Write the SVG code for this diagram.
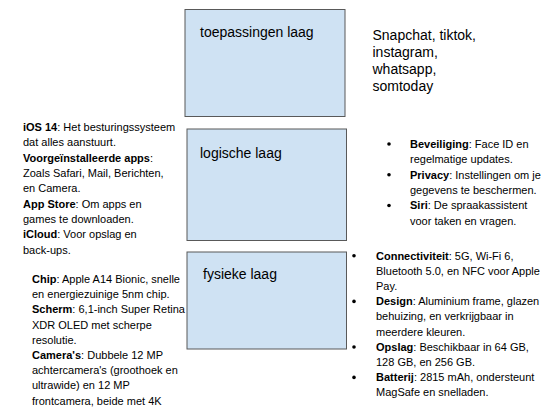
<svg xmlns="http://www.w3.org/2000/svg" width="552" height="415" viewBox="0 0 552 415">
<style>
.box{fill:#cfe2f3;stroke:#595959;stroke-width:1}
.lbl{font-family:"Liberation Sans",Arial,sans-serif;font-size:14px;fill:#000}
.t{font-family:"Liberation Sans",Arial,sans-serif;font-size:11px;fill:#000}
.b{font-weight:bold}
.dot{fill:#000}
</style>
<rect width="552" height="415" fill="#ffffff"/>
<g id="toepassingen">
<rect class="box" x="185" y="9.5" width="160" height="107"/>
<text class="lbl" x="200" y="37">toepassingen laag</text>
</g>
<g id="logische">
<rect class="box" x="187" y="129" width="159.5" height="111.5"/>
<text class="lbl" x="200" y="158">logische laag</text>
</g>
<g id="fysieke">
<rect class="box" x="187" y="252" width="159.5" height="97"/>
<text class="lbl" x="203" y="279">fysieke laag</text>
</g>
<g id="connectors"></g>
<g id="apps-text">
<text class="lbl" x="372.5" y="40">Snapchat, tiktok,</text>
<text class="lbl" x="372.5" y="57">instagram,</text>
<text class="lbl" x="372.5" y="74">whatsapp,</text>
<text class="lbl" x="372.5" y="91">somtoday</text>
</g>
<g id="logisch-left">
<text class="t" x="23" y="131"><tspan class="b">iOS 14</tspan>: Het besturingssysteem</text>
<text class="t" x="23" y="146.3">dat alles aanstuurt.</text>
<text class="t" x="23" y="161.6"><tspan class="b">Voorgeïnstalleerde apps</tspan>:</text>
<text class="t" x="23" y="177">Zoals Safari, Mail, Berichten,</text>
<text class="t" x="23" y="192.3">en Camera.</text>
<text class="t" x="23" y="207.6"><tspan class="b">App Store</tspan>: Om apps en</text>
<text class="t" x="23" y="223">games te downloaden.</text>
<text class="t" x="23" y="238.3"><tspan class="b">iCloud</tspan>: Voor opslag en</text>
<text class="t" x="23" y="253.6">back-ups.</text>
</g>
<g id="fysiek-left">
<text class="t" x="32" y="283"><tspan class="b">Chip</tspan>: Apple A14 Bionic, snelle</text>
<text class="t" x="32" y="298.2">en energiezuinige 5nm chip.</text>
<text class="t" x="32" y="313.4"><tspan class="b">Scherm</tspan>: 6,1-inch Super Retina</text>
<text class="t" x="32" y="328.6">XDR OLED met scherpe</text>
<text class="t" x="32" y="343.8">resolutie.</text>
<text class="t" x="32" y="359"><tspan class="b">Camera's</tspan>: Dubbele 12 MP</text>
<text class="t" x="32" y="374.2">achtercamera's (groothoek en</text>
<text class="t" x="32" y="389.4">ultrawide) en 12 MP</text>
<text class="t" x="32" y="404.6">frontcamera, beide met 4K</text>
</g>
<g id="logisch-right">
<circle class="dot" cx="389" cy="144" r="1.8"/>
<text class="t" x="410" y="147.7"><tspan class="b">Beveiliging</tspan>: Face ID en</text>
<text class="t" x="410" y="163">regelmatige updates.</text>
<circle class="dot" cx="389" cy="174.8" r="1.8"/>
<text class="t" x="410" y="178.5"><tspan class="b">Privacy</tspan>: Instellingen om je</text>
<text class="t" x="410" y="194">gegevens te beschermen.</text>
<circle class="dot" cx="389" cy="205.5" r="1.8"/>
<text class="t" x="410" y="209.2"><tspan class="b">Siri</tspan>: De spraakassistent</text>
<text class="t" x="410" y="224.6">voor taken en vragen.</text>
</g>
<g id="fysiek-right">
<circle class="dot" cx="354" cy="255.8" r="1.8"/>
<text class="t" x="376" y="259.5"><tspan class="b">Connectiviteit</tspan>: 5G, Wi-Fi 6,</text>
<text class="t" x="376" y="274.7">Bluetooth 5.0, en NFC voor Apple</text>
<text class="t" x="376" y="289.9">Pay.</text>
<circle class="dot" cx="354" cy="301.4" r="1.8"/>
<text class="t" x="376" y="305.1"><tspan class="b">Design</tspan>: Aluminium frame, glazen</text>
<text class="t" x="376" y="320.3">behuizing, en verkrijgbaar in</text>
<text class="t" x="376" y="335.5">meerdere kleuren.</text>
<circle class="dot" cx="354" cy="347" r="1.8"/>
<text class="t" x="376" y="350.7"><tspan class="b">Opslag</tspan>: Beschikbaar in 64 GB,</text>
<text class="t" x="376" y="365.9">128 GB, en 256 GB.</text>
<circle class="dot" cx="354" cy="377.4" r="1.8"/>
<text class="t" x="376" y="381.1"><tspan class="b">Batterij</tspan>: 2815 mAh, ondersteunt</text>
<text class="t" x="376" y="396.3">MagSafe en snelladen.</text>
</g>
</svg>
